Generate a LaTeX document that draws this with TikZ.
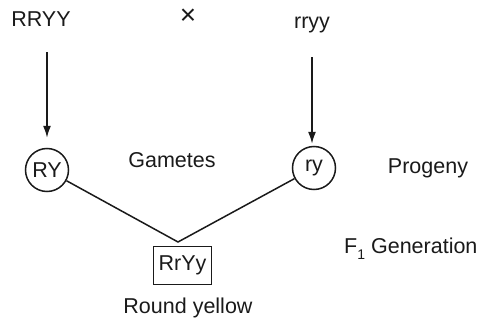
\documentclass[tikz,border=0pt]{standalone}
\usepackage{fontspec}
\setmainfont{Liberation Sans}
\usetikzlibrary{arrows.meta}
\definecolor{ink}{HTML}{1A1A1A}
\begin{document}
\begin{tikzpicture}[x=1pt,y=-1pt,
  every node/.style={font=\fontsize{21.5}{25}\selectfont, text=ink, inner sep=0pt},
  lab/.style={anchor=base},
  gam/.style={draw=ink, line width=1.5pt, circle, minimum size=43pt},
  arr/.style={draw=ink, line width=1.5pt, -{Latex[length=12pt,width=8pt]}},
  ln/.style={draw=ink, line width=1.5pt},
  boxx/.style={draw=ink, line width=1.5pt, minimum width=58pt, minimum height=38pt}]
\useasboundingbox (0,0) rectangle (499,324);
\node[lab] (p1) at (41,27) {RRYY};
\node[font=\fontsize{28}{30}\selectfont] (x) at (188,17) {\texttimes};
\node[lab] (p2) at (312,28) {rryy};
\node[gam] (RY) at (47,170) {RY};
\node[gam] (ry) at (314,168) {ry};
\node[lab] (gm) at (172,167) {Gametes};
\node[lab] (pg) at (428,173) {Progeny};
\node[lab, anchor=base west] (f1) at (344,253) {F\raisebox{-6pt}{\fontsize{14}{16}\selectfont 1} Generation};
\node[boxx] (box) at (182.5,265.5) {RrYy};
\node[lab] (rnd) at (188,313) {Round yellow};
\coordinate (a1) at (47,52);
\coordinate (a2) at (312,57);
\coordinate (v) at (178,242);
\draw[arr, shorten >=10pt] (a1) -- (RY.north);
\draw[arr, shorten >=2pt] (a2) -- (ry.north -| a2);
\draw[ln] (RY) -- (v) -- (ry);
\end{tikzpicture}
\end{document}
